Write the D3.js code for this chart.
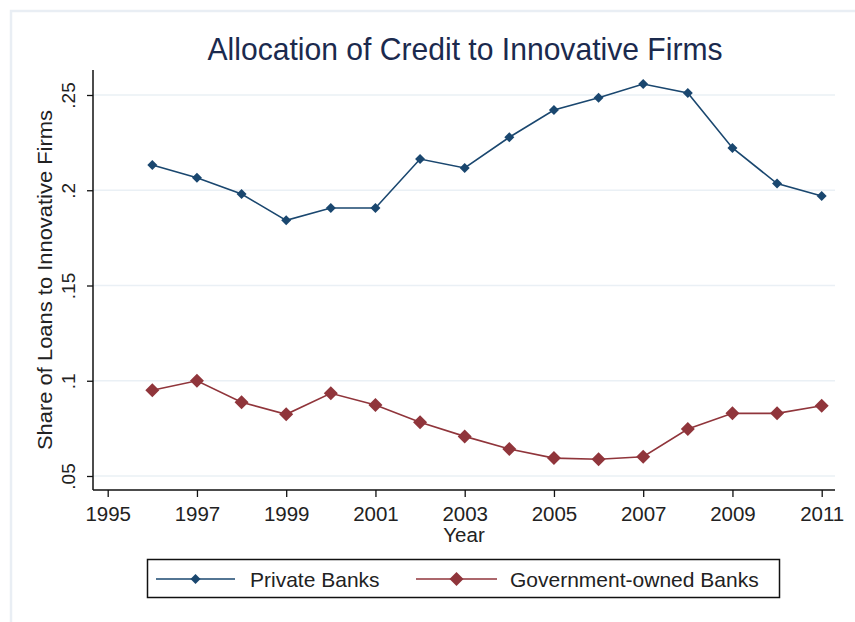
<!DOCTYPE html>
<html>
<head>
<meta charset="utf-8">
<script src="https://cdn.jsdelivr.net/npm/d3@7"></script>
<style>
  html, body { margin: 0; padding: 0; background: #fff; }
  svg { display: block; font-family: "Liberation Sans", Arial, sans-serif; }
</style>
</head>
<body>
<svg id="chart" width="855" height="622"></svg>
<script>
// Share of loans going to innovative firms, by bank ownership
const years = [1996, 1997, 1998, 1999, 2000, 2001, 2002, 2003, 2004, 2005, 2006, 2007, 2008, 2009, 2010, 2011];
const privateBanks = [0.2133, 0.2066, 0.1980, 0.1842, 0.1907, 0.1907, 0.2164, 0.2117, 0.2278, 0.2421, 0.2485, 0.2558, 0.2511, 0.2222, 0.2035, 0.1970];
const governmentBanks = [0.0950, 0.1000, 0.0887, 0.0824, 0.0934, 0.0873, 0.0782, 0.0708, 0.0642, 0.0594, 0.0588, 0.0601, 0.0747, 0.0829, 0.0829, 0.0869];
const xTicks = [1995, 1997, 1999, 2001, 2003, 2005, 2007, 2009, 2011];
const yTicks = [0.05, 0.10, 0.15, 0.20, 0.25];
const yTickLabels = [".05", ".1", ".15", ".2", ".25"];
const seriesNames = ["Private Banks", "Government-owned Banks"];

const svg = d3.select("#chart");
const navy = "#1a476f", maroon = "#90353b", grid = "#eaf0f5";

// outer frame
svg.append("rect").attr("x", 11).attr("y", 11).attr("width", 860).attr("height", 640)
  .attr("fill", "none").attr("stroke", "#e9eef4").attr("stroke-width", 2.5);

const plot = { left: 93, right: 835, top: 70, bottom: 490 };
const x = d3.scaleLinear().domain([1995, 2011]).range([107.7, 821.7]);
const y = d3.scaleLinear().domain([0.05, 0.25]).range([476, 95]);

// gridlines
svg.append("g").selectAll("line").data(yTicks).join("line")
  .attr("x1", plot.left).attr("x2", plot.right)
  .attr("y1", d => y(d)).attr("y2", d => y(d))
  .attr("stroke", grid).attr("stroke-width", 1.5);

// y axis
const yAxis = svg.append("g").attr("transform", `translate(${plot.left},0)`)
  .call(d3.axisLeft(y).tickValues(yTicks).tickSize(6).tickSizeOuter(0)
    .tickFormat((d, i) => yTickLabels[i]));
yAxis.select(".domain").remove();
yAxis.selectAll(".tick line").attr("stroke", "#111").attr("stroke-width", 1.3);
yAxis.selectAll(".tick text")
  .attr("x", null).attr("dy", null)
  .attr("transform", "translate(-18,0) rotate(-90)")
  .attr("text-anchor", "middle").attr("font-size", 19).attr("fill", "#222");
svg.append("line").attr("x1", plot.left).attr("x2", plot.left)
  .attr("y1", plot.top).attr("y2", plot.bottom).attr("stroke", "#111").attr("stroke-width", 1.5);

// x axis
const xAxis = svg.append("g").attr("transform", `translate(0,${plot.bottom})`)
  .call(d3.axisBottom(x).tickValues(xTicks).tickSize(7).tickSizeOuter(0).tickFormat(d3.format("d")));
xAxis.select(".domain").remove();
xAxis.selectAll(".tick line").attr("stroke", "#111").attr("stroke-width", 1.3);
xAxis.selectAll(".tick text").attr("y", 16).attr("dy", "0.71em")
  .attr("font-size", 20.5).attr("fill", "#222");
svg.append("line").attr("x1", plot.left).attr("x2", plot.right)
  .attr("y1", plot.bottom).attr("y2", plot.bottom).attr("stroke", "#111").attr("stroke-width", 1.5);

// titles
svg.append("text").attr("x", 465).attr("y", 60).attr("text-anchor", "middle")
  .attr("font-size", 32).attr("fill", "#1b2a4e")
  .attr("textLength", 515).attr("lengthAdjust", "spacingAndGlyphs")
  .text("Allocation of Credit to Innovative Firms");
svg.append("text").attr("transform", "translate(52,280) rotate(-90)").attr("text-anchor", "middle")
  .attr("font-size", 21).attr("fill", "#222")
  .attr("textLength", 340).attr("lengthAdjust", "spacingAndGlyphs")
  .text("Share of Loans to Innovative Firms");
svg.append("text").attr("x", 464).attr("y", 542).attr("text-anchor", "middle")
  .attr("font-size", 20.5).attr("fill", "#222").text("Year");

// series
const diamond = r => `M0,${-r}L${r},0L0,${r}L${-r},0Z`;
const series = [
  { name: seriesNames[0], values: privateBanks, color: navy, r: 5 },
  { name: seriesNames[1], values: governmentBanks, color: maroon, r: 7 }
];
const line = d3.line().x(d => x(d[0])).y(d => y(d[1]));
series.forEach(s => {
  const pts = years.map((yr, i) => [yr, s.values[i]]);
  svg.append("path").attr("d", line(pts)).attr("fill", "none")
    .attr("stroke", s.color).attr("stroke-width", 1.6);
  svg.append("g").selectAll("path").data(pts).join("path")
    .attr("transform", d => `translate(${x(d[0])},${y(d[1])})`)
    .attr("d", diamond(s.r)).attr("fill", s.color);
});

// legend
svg.append("rect").attr("x", 147.5).attr("y", 559.5).attr("width", 632).attr("height", 38)
  .attr("fill", "#fff").attr("stroke", "#111").attr("stroke-width", 1.5);
const legendItems = [
  { x1: 156, x2: 235, tx: 250 },
  { x1: 416, x2: 497, tx: 510 }
];
legendItems.forEach((it, i) => {
  const s = series[i];
  const ly = 579;
  svg.append("line").attr("x1", it.x1).attr("x2", it.x2).attr("y1", ly).attr("y2", ly)
    .attr("stroke", s.color).attr("stroke-width", 1.6);
  svg.append("path").attr("transform", `translate(${(it.x1 + it.x2) / 2},${ly})`)
    .attr("d", diamond(s.r)).attr("fill", s.color);
  svg.append("text").attr("x", it.tx).attr("y", 587).attr("font-size", 21).attr("fill", "#222")
    .text(s.name);
});
</script>
</body>
</html>
